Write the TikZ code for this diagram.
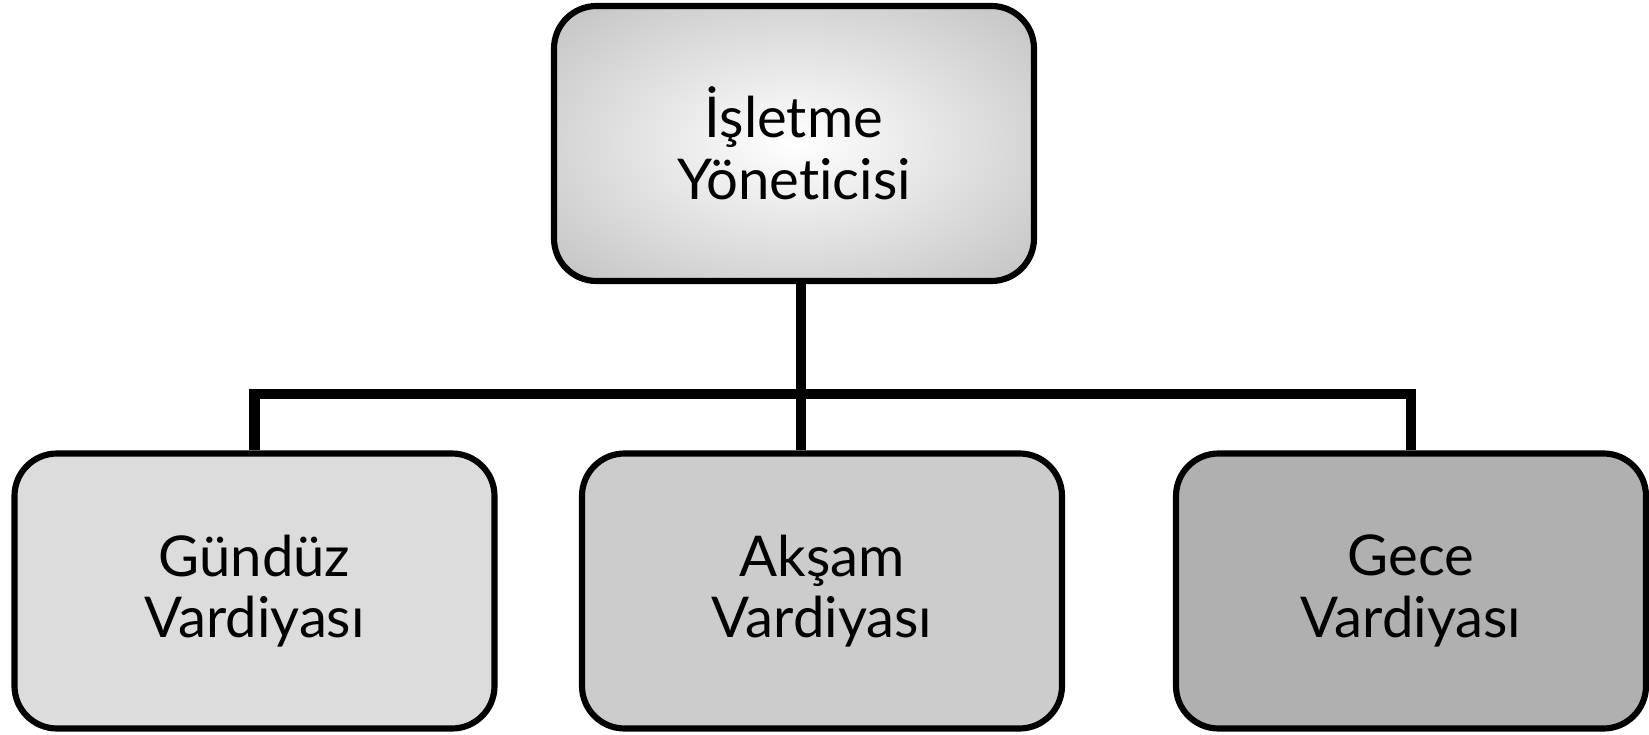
\documentclass[tikz,border=0pt]{standalone}
\usepackage{fontspec}
\setmainfont[RawFeature=-liga]{Lato}
\usetikzlibrary{positioning}
\definecolor{mgredge}{HTML}{BEBEBE}
\definecolor{dayfill}{HTML}{DCDCDC}
\definecolor{evefill}{HTML}{CCCCCC}
\definecolor{nightfill}{HTML}{B0B0B0}
\pgfdeclareradialshading{mgrglow}{\pgfpoint{0bp}{0bp}}{color(0bp)=(white); color(38bp)=(mgredge); color(50bp)=(mgredge)}
\begin{document}
\begin{tikzpicture}[
    unit/.style={draw=black, line width=3.5pt, rounded corners=0.85cm, minimum width=9.6cm, minimum height=5.5cm, align=center, font=\fontsize{32}{35}\selectfont},
    link/.style={line width=6pt}]
                \useasboundingbox (0,0) rectangle (32.98,14.68);
                \node [unit, shading=mgrglow] (mgr) at (15.88,11.81) {İşletme\\Yöneticisi};
                \node [unit, fill=dayfill] (gunduz) at (5.09,2.86) {Gündüz\\Vardiyası};
                \node [unit, fill=evefill] (aksam) at (16.44,2.86) {Akşam\\Vardiyası};
                \node [unit, fill=nightfill, minimum width=9.4cm] (gece) at (28.22,2.86) {Gece\\Vardiyası};
                \coordinate (hub) at (16.02,6.8);
                \draw [link] (hub |- mgr.south)--(hub |- aksam.north);
                \draw [link] (gunduz.north) |- (hub) -| (gece.north);
            \end{tikzpicture}
\end{document}
